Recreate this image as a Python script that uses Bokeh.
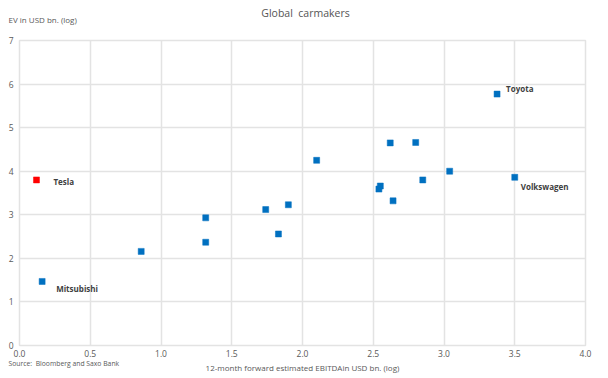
from bokeh.plotting import figure
from bokeh.models import Range1d, FixedTicker, NumeralTickFormatter, Label
from bokeh.core.properties import value
from bokeh.embed import file_html
from bokeh.resources import INLINE

# Unlabelled carmakers: 12-month forward EBITDA (log) vs EV (log)
other_x = [0.86, 1.316, 1.316, 1.74, 1.83, 1.90, 2.10, 2.54, 2.55, 2.62, 2.64, 2.80, 2.85, 3.04]
other_y = [2.16, 2.93, 2.37, 3.12, 2.56, 3.23, 4.25, 3.59, 3.66, 4.65, 3.32, 4.66, 3.80, 4.00]

# Labelled carmakers
named = ["Tesla", "Mitsubishi", "Toyota", "Volkswagen"]
named_x = [0.12, 0.16, 3.375, 3.50]
named_y = [3.80, 1.47, 5.77, 3.86]
named_colors = ["#FF0000", "#0070C0", "#0070C0", "#0070C0"]

x_ticks = [0.0, 0.5, 1.0, 1.5, 2.0, 2.5, 3.0, 3.5, 4.0]
y_ticks = [0, 1, 2, 3, 4, 5, 6, 7]

title_text = "Global\u00a0 carmakers"
y_title = "EV in USD bn. (log)"
x_title = "12-month forward estimated EBITDAin USD bn. (log)"
source_text = "Source:\u00a0 Bloomberg and Saxo Bank"

FONT = "Open Sans"
GRID = "#e3e3e3"
TXT = "#595959"

p = figure(width=608, height=378, output_backend="svg", toolbar_location=None,
           x_range=Range1d(0, 4), y_range=Range1d(0, 7),
           min_border_left=19, min_border_right=23, min_border_top=40, min_border_bottom=33,
           title=None)
p.background_fill_color = "white"
p.border_fill_color = "white"
p.outline_line_color = GRID
p.outline_line_width = 1.5

p.xaxis.ticker = FixedTicker(ticks=x_ticks)
p.yaxis.ticker = FixedTicker(ticks=y_ticks)
p.xaxis.formatter = NumeralTickFormatter(format="0.0")
for ax in (p.xaxis, p.yaxis):
    ax.axis_line_color = None
    ax.major_tick_line_color = None
    ax.minor_tick_line_color = None
    ax.major_tick_out = 0
    ax.major_tick_in = 0
    ax.major_label_text_font = FONT
    ax.major_label_text_font_size = "8.5px"
    ax.major_label_text_color = TXT
p.xaxis.major_label_standoff = 4
p.yaxis.major_label_standoff = 6
p.xaxis.axis_label = x_title
p.xaxis.axis_label_text_font = FONT
p.xaxis.axis_label_text_font_size = "8px"
p.xaxis.axis_label_text_font_style = "normal"
p.xaxis.axis_label_text_color = TXT
p.xaxis.axis_label_standoff = 2

p.xgrid.ticker = FixedTicker(ticks=x_ticks)
p.ygrid.ticker = FixedTicker(ticks=y_ticks)
p.grid.grid_line_color = GRID
p.grid.grid_line_width = 1.5

p.scatter(other_x, other_y, marker="square", size=6, fill_color="#0070C0",
          line_color="#0070C0", line_width=0.5)
p.scatter(named_x, named_y, marker="square", size=6, fill_color=named_colors,
          line_color=named_colors, line_width=0.5)

p.text(x=named_x, y=named_y, text=named,
       x_offset=[17, 14, 9, 6], y_offset=[2, 7, -6, 9],
       text_font=value(FONT), text_font_size="8px", text_font_style="bold",
       text_color="#404040", text_baseline="middle", text_align="left")

# Texts outside the plot frame live in side panels (screen units relative to the panel)
p.add_layout(Label(x=-11, y=-323, x_units="screen", y_units="screen", text=source_text,
                   text_font=FONT, text_font_size="6.8px", text_color=TXT,
                   text_baseline="middle"), "above")
p.add_layout(Label(x=-11, y=7, x_units="screen", y_units="screen", text=y_title,
                   text_font=FONT, text_font_size="8px", text_color=TXT), "above")
p.add_layout(Label(x=286, y=1, x_units="screen", y_units="screen", text=title_text,
                   text_font=FONT, text_font_size="10.5px", text_color="#555555",
                   text_align="center"), "above")

open("out.html", "w").write(file_html(p, INLINE))
